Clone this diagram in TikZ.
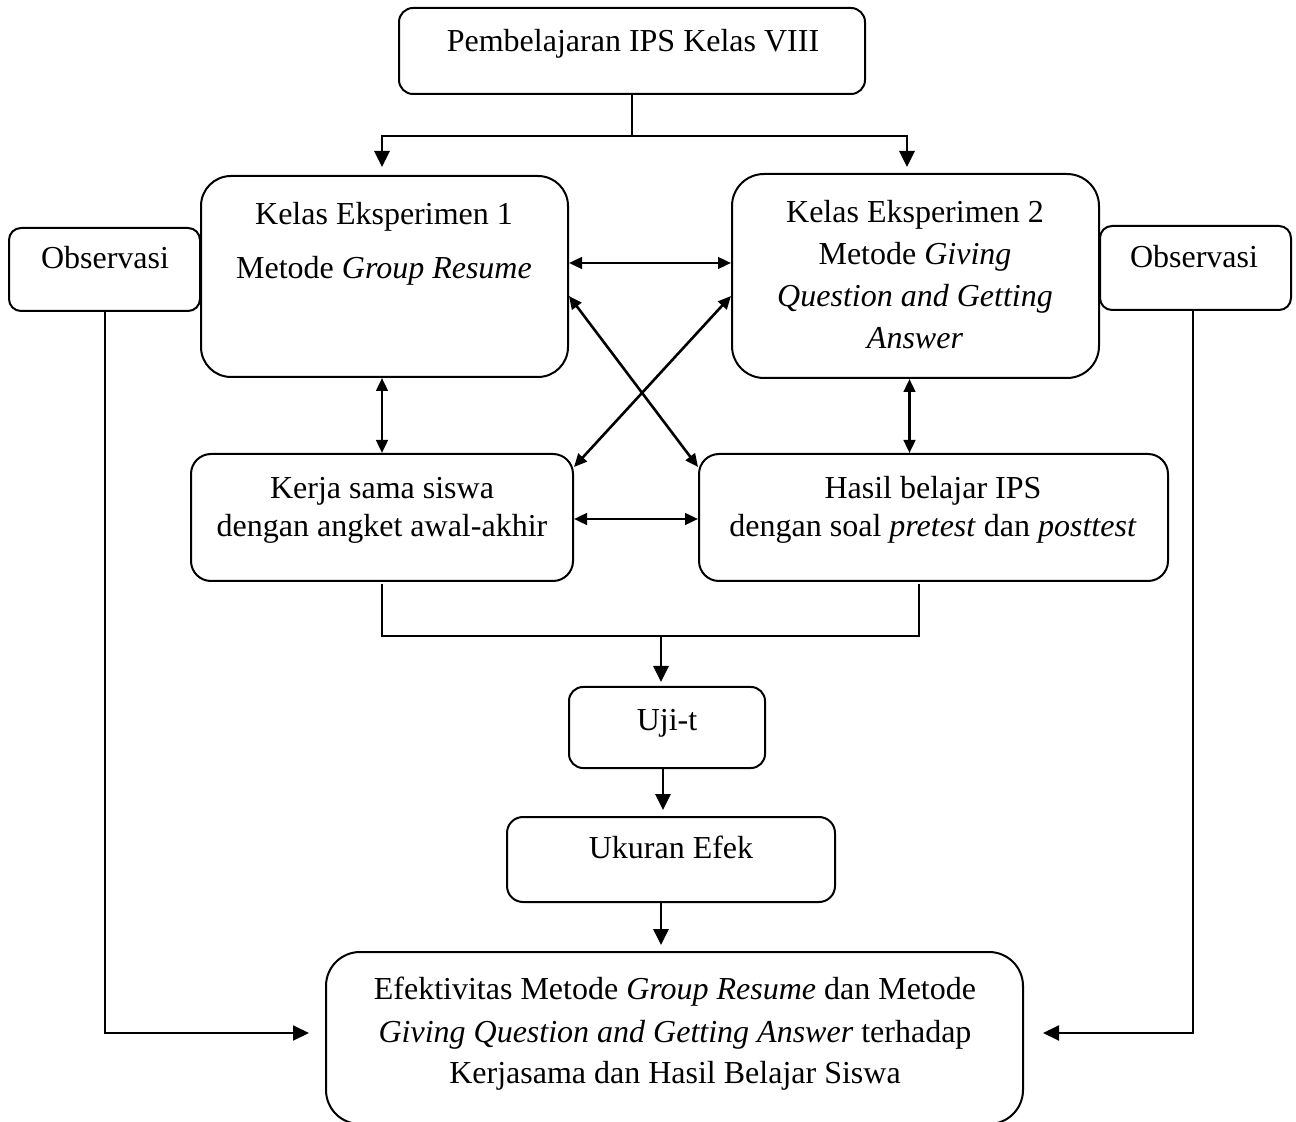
\documentclass[tikz,border=0pt]{standalone}
\usepackage{fontspec}
\setmainfont{Liberation Serif}
\usetikzlibrary{arrows.meta,fit,calc}
\begin{document}
\begin{tikzpicture}[x=0.5pt,y=-0.5pt,
  box/.style={draw, line width=1pt, rounded corners=#1, inner sep=0pt},
  txt/.style={anchor=base, inner sep=0pt, font=\fontsize{16pt}{19pt}\selectfont},
  conn/.style={line width=1pt},
  arr/.style={line width=1.4pt, -{Triangle[length=8pt,width=7.5pt]}},
  darr/.style={line width=1.3pt, {Triangle[length=6.5pt,width=5.8pt]}-{Triangle[length=6.5pt,width=5.8pt]}},
]
\clip (0,0) rectangle (1296,1122);
\fill[white] (0,0) rectangle (1296,1122);

% boxes
\node[box=7pt, fit={(399,8)(865,94)}] (top) {};
\node[box=15pt, fit={(201,176)(568,377)}] (ke1) {};
\node[box=6pt, fit={(9,228)(200,311)}] (obsL) {};
\node[box=16pt, fit={(732,174)(1099,378)}] (ke2) {};
\node[box=6pt, fit={(1100,226)(1291,310)}] (obsR) {};
\node[box=10pt, fit={(191,454)(573,581)}] (kerja) {};
\node[box=10pt, fit={(699,454)(1168,581)}] (hasil) {};
\node[box=7pt, fit={(569,687)(765,768)}] (ujit) {};
\node[box=8pt, fit={(507,817)(835,902)}] (ukuran) {};
\node[box=17pt, fit={(326,952)(1023,1124)}] (bottom) {};

% texts
\node[txt] (top-t) at (633,52) {Pembelajaran IPS Kelas VIII};
\node[txt] (ke1-t1) at (384,225) {Kelas Eksperimen 1};
\node[txt] (ke1-t2) at (384,279) {Metode \textit{Group Resume}};
\node[txt] (obsL-t) at (105,269) {Observasi};
\node[txt] (ke2-t1) at (915,223) {Kelas Eksperimen 2};
\node[txt] (ke2-t2) at (915,265) {Metode \textit{Giving}};
\node[txt] (ke2-t3) at (915,307) {\textit{Question and Getting}};
\node[txt] (ke2-t4) at (915,349) {\textit{Answer}};
\node[txt] (obsR-t) at (1194,268) {Observasi};
\node[txt] (kerja-t1) at (382,499) {Kerja sama siswa};
\node[txt] (kerja-t2) at (382,537) {dengan angket awal-akhir};
\node[txt] (hasil-t1) at (933,499) {Hasil belajar IPS};
\node[txt] (hasil-t2) at (933,537) {dengan soal \textit{pretest} dan \textit{posttest}};
\node[txt] (ujit-t) at (667,730) {Uji-t};
\node[txt] (ukuran-t) at (671,858) {Ukuran Efek};
\node[txt] (bottom-t1) at (675,999) {Efektivitas Metode \textit{Group Resume} dan Metode};
\node[txt] (bottom-t2) at (675,1042) {\textit{Giving Question and Getting Answer} terhadap};
\node[txt] (bottom-t3) at (675,1083) {Kerjasama dan Hasil Belajar Siswa};

% top split
\coordinate (split) at (632,136);
\draw[conn] (top.south) -- (split);
\draw[conn] (split) -| ([xshift=-1.25pt,yshift=20pt]ke1.north) coordinate (sL);
\draw[conn] (split) -| ([xshift=-4.25pt,yshift=19pt]ke2.north) coordinate (sR);
\draw[arr, shorten >=4pt] (sL) -- ([xshift=-1.25pt]ke1.north);
\draw[arr, shorten >=3pt] (sR) -- ([xshift=-4.25pt]ke2.north);

% between experiment classes
\draw[darr] ([yshift=6.75pt]ke1.east) coordinate (h1) -- (h1 -| ke2.west);
\draw[darr] ([yshift=-9.75pt]ke1.east) -- ([yshift=-7pt]hasil.north west);
\draw[darr] ([yshift=-10pt]ke2.west) -- ([yshift=-7pt]kerja.north east);
\draw[darr] (kerja.north) -- (kerja.north |- ke1.south);
\draw[darr] ([xshift=-3pt]ke2.south) coordinate (v2) -- (v2 |- hasil.north);
\draw[darr] ([yshift=-0.75pt]kerja.east) coordinate (m1) -- (m1 -| hasil.west);

% merge
\coordinate (mC) at (661,636);
\draw[conn] ([yshift=-1pt]kerja.south) |- (mC);
\draw[conn] ([xshift=-7.25pt,yshift=-1pt]hasil.south) |- (mC);
\draw[arr, shorten >=2pt] (mC) -- (mC |- ujit.north);
\draw[arr, shorten >=3pt] ([xshift=-2pt]ujit.south) coordinate (u1) -- (u1 |- ukuran.north);
\draw[arr, shorten >=3pt] ([xshift=-5pt]ukuran.south) coordinate (u2) -- (u2 |- bottom.north);

% observation lines
\draw[arr, line width=1pt, shorten >=8pt] (obsL.south) |- ([yshift=2.5pt]bottom.west);
\draw[arr, line width=1pt, shorten >=9.5pt] ([xshift=-1.25pt]obsR.south) |- ([yshift=2.5pt]bottom.east);
\end{tikzpicture}
\end{document}
